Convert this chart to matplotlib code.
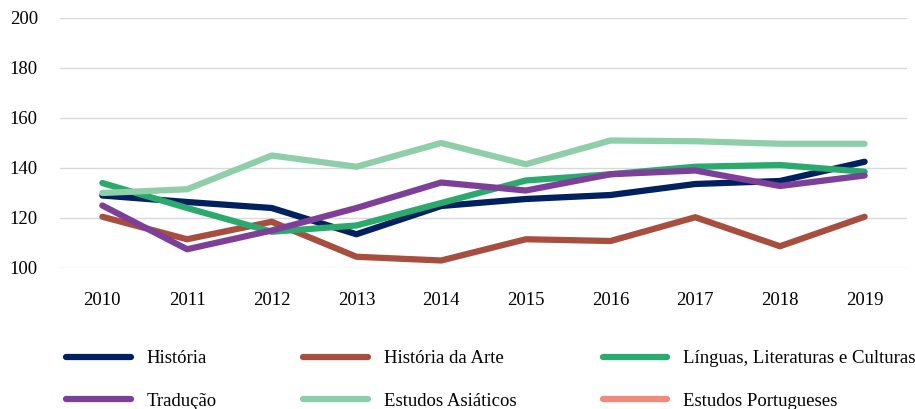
import numpy as np
import matplotlib
matplotlib.use("Agg")
import matplotlib.pyplot as plt

plt.rcParams['font.family'] = ['Liberation Serif', 'DejaVu Serif']

anos = [2010, 2011, 2012, 2013, 2014, 2015, 2016, 2017, 2018, 2019]
historia = [129, 126.4, 124, 113.5, 124.8, 127.6, 129.2, 133.6, 134.8, 142.5]
historia_arte = [120.5, 111.5, 118.5, 104.5, 103, 111.5, 110.8, 120.3, 108.7, 120.5]
linguas = [134, 124, 114.5, 117, 126, 135, 137.5, 140.5, 141.2, 138.5]
traducao = [125, 107.5, 115, 124, 134.2, 131, 137.5, 139, 132.8, 137]
asiaticos = [130, 131.5, 145, 140.5, 150, 141.5, 151, 150.7, 149.7, 149.7]
portugueses = []  # sem valores no gráfico, só aparece na legenda

series = [
    ("História", historia, "#002060"),
    ("História da Arte", historia_arte, "#A84E3E"),
    ("Línguas, Literaturas e Culturas", linguas, "#2BAA6E"),
    ("Tradução", traducao, "#7E3F98"),
    ("Estudos Asiáticos", asiaticos, "#8ECFA9"),
    ("Estudos Portugueses", portugueses, "#F08A7A"),
]

fig = plt.figure(figsize=(9.15, 4.09), dpi=100)
ax = fig.add_axes([60/915, 1-268/409, (907-60)/915, (268-18)/409])

linhas = []
for nome, vals, cor in series:
    l, = ax.plot(anos[:len(vals)], vals, color=cor, lw=4.5, label=nome,
                 solid_capstyle='round', solid_joinstyle='round')
    linhas.append(l)

ax.set_xlim(2009.5, 2019.5)
ax.set_ylim(100, 200)
ax.set_yticks(range(100, 201, 20))
ax.set_xticks(anos)
ax.grid(axis='y', color='#D9D9D9', lw=1)
ax.set_axisbelow(True)
for s in ax.spines.values():
    s.set_visible(False)
ax.tick_params(axis='both', length=0, labelsize=13.5)
ax.tick_params(axis='x', pad=17)
ax.tick_params(axis='y', pad=16)

# legenda preenchida por linhas (3 colunas)
ordem = [0, 3, 1, 4, 2, 5]
hs = [linhas[i] for i in ordem]
fig.legend(hs, [h.get_label() for h in hs], loc='upper left',
           bbox_to_anchor=(66/915, 1-350/409), ncol=3,
           frameon=False, fontsize=13.5, handlelength=3.45, handletextpad=0.85,
           columnspacing=4.6, labelspacing=1.35, borderpad=0, borderaxespad=0)

plt.savefig("out.png", dpi=100)
